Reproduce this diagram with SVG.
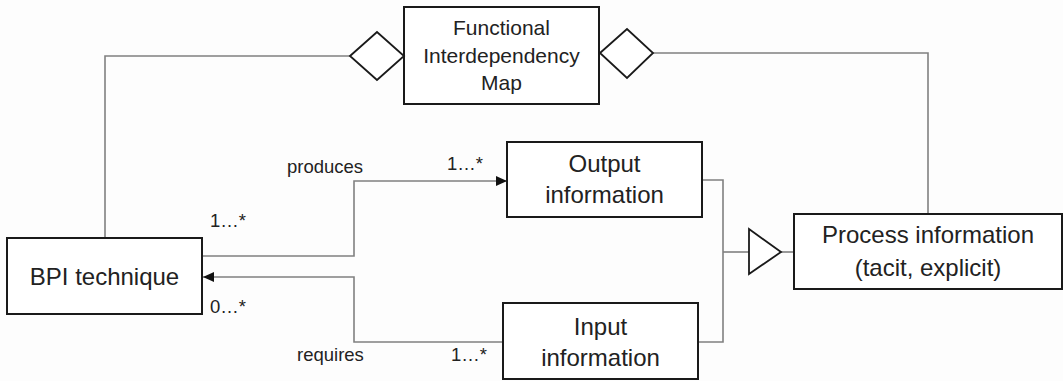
<svg xmlns="http://www.w3.org/2000/svg" width="1063" height="381" viewBox="0 0 1063 381">
<defs>
<style>
.box{fill:#fff;stroke:#1a1a1a;stroke-width:2}
.sym{fill:#fff;stroke:#1a1a1a;stroke-width:1.8}
.conn{fill:none;stroke:#808080;stroke-width:1.6}
.t{font-family:"Liberation Sans",Arial,sans-serif;fill:#222;text-anchor:middle}
.n{font-size:24px}
.f{font-size:21px}
.l{font-family:"Liberation Sans",Arial,sans-serif;fill:#222;font-size:18.5px}
</style>
<marker id="arr" markerWidth="12" markerHeight="10" refX="11" refY="5" orient="auto" markerUnits="userSpaceOnUse">
<path d="M0,0 L11,5 L0,10 Z" fill="#111"/>
</marker>
</defs>
<rect width="1063" height="381" fill="#fdfdfd"/>
<g id="connectors">
<path class="conn" d="M350,56 H105 V238"/>
<path class="conn" d="M653,53 H928 V214"/>
<path class="conn" d="M202,256 H354 V181 H507" marker-end="url(#arr)"/>
<path class="conn" d="M503,342 H354 V277 H203" marker-end="url(#arr)"/>
<path class="conn" d="M702,180 H723 V342 H698"/>
<path class="conn" d="M723,252 H749"/>
<path class="conn" d="M781,252 H794"/>
</g>
<g id="fim">
<rect class="box" x="404" y="7" width="195" height="97"/>
<text class="t f" x="501.5" y="35">Functional</text>
<text class="t f" x="501.5" y="63">Interdependency</text>
<text class="t f" x="501.5" y="90">Map</text>
</g>
<g id="diamond-left">
<polygon class="sym" points="350,56 377,32 404,56 377,80"/>
</g>
<g id="diamond-right">
<polygon class="sym" points="600,53 627,29 653,53 627,78"/>
</g>
<g id="bpi">
<rect class="box" x="7" y="238" width="195" height="76"/>
<text class="t n" x="104.5" y="285">BPI technique</text>
</g>
<g id="output">
<rect class="box" x="507" y="142" width="195" height="75"/>
<text class="t n" x="604.5" y="172">Output</text>
<text class="t n" x="604.5" y="203">information</text>
</g>
<g id="input">
<rect class="box" x="503" y="303" width="195" height="76"/>
<text class="t n" x="600.5" y="335">Input</text>
<text class="t n" x="600.5" y="366">information</text>
</g>
<g id="triangle">
<polygon class="sym" points="749,229 781,252 749,274"/>
</g>
<g id="process">
<rect class="box" x="794" y="214" width="268" height="75"/>
<text class="t n" x="928" y="243">Process information</text>
<text class="t n" x="928" y="276">(tacit, explicit)</text>
</g>
<g id="labels">
<text class="l" x="287" y="173">produces</text>
<text class="l" x="447" y="170">1…*</text>
<text class="l" x="210" y="227">1…*</text>
<text class="l" x="210" y="313">0…*</text>
<text class="l" x="297" y="361">requires</text>
<text class="l" x="451" y="361">1…*</text>
</g>
</svg>
